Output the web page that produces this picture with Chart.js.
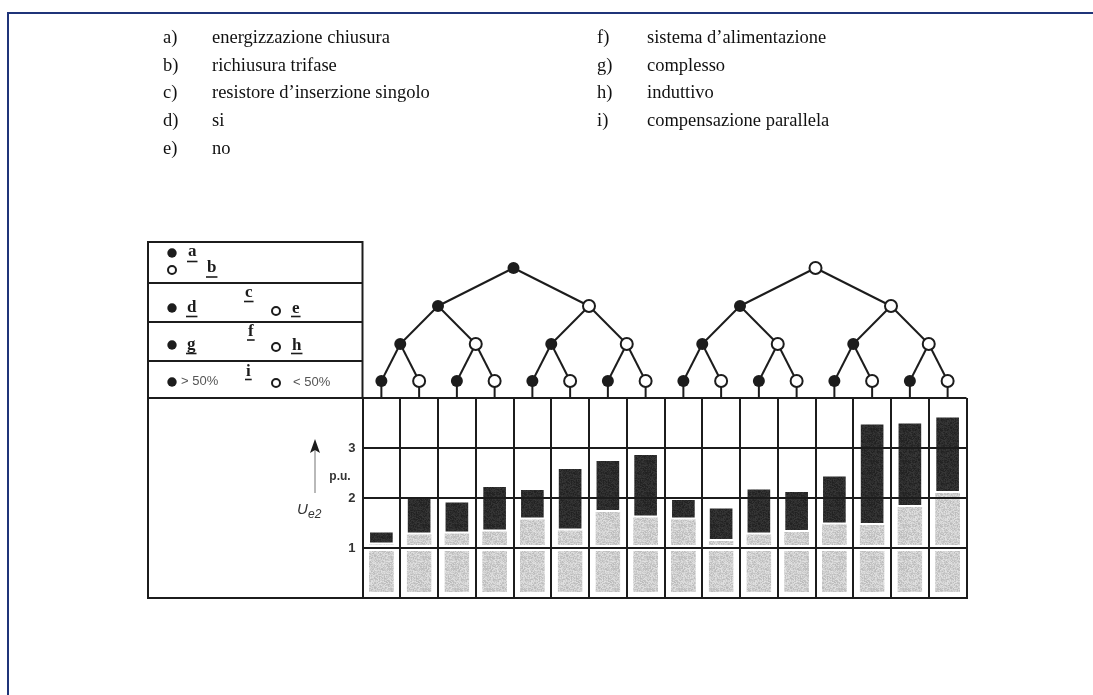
<!DOCTYPE html>
<html>
<head>
<meta charset="utf-8">
<script src="https://cdn.jsdelivr.net/npm/chart.js@4.4.1/dist/chart.umd.min.js"></script>
<style>
  html, body { margin: 0; padding: 0; background: #ffffff; }
  #wrap { position: relative; width: 1093px; height: 695px; }
  canvas { display: block; }
</style>
</head>
<body>
<div id="wrap"><canvas id="chart" width="1093" height="695"></canvas></div>
<script>
// Switching cases: 16 leaves of the decision tree
const cases = ['1','2','3','4','5','6','7','8','9','10','11','12','13','14','15','16'];
// Ue2 overvoltage band (p.u.): lower and upper limit of the dark bar
const surgeLow  = [1.11, 1.31, 1.33, 1.37, 1.61, 1.39, 1.76, 1.65, 1.61, 1.18, 1.31, 1.36, 1.51, 1.50, 1.86, 2.14];
const surgeHigh = [1.31, 2.01, 1.91, 2.22, 2.16, 2.58, 2.74, 2.86, 1.96, 1.79, 2.17, 2.12, 2.43, 3.47, 3.49, 3.61];
// Grey band starts from this level in every case
const baseLevel = [0.12, 0.12, 0.12, 0.12, 0.12, 0.12, 0.12, 0.12, 0.12, 0.12, 0.12, 0.12, 0.12, 0.12, 0.12, 0.12];
const yTickValues = [1, 2, 3];

// Tree node states, 1 = filled dot, 0 = open dot
const rootNodes  = [1, 0];
const levelOne   = [1, 0, 1, 0];
const levelTwo   = [1, 0, 1, 0, 1, 0, 1, 0];
const leafNodes  = [1, 0, 1, 0, 1, 0, 1, 0, 1, 0, 1, 0, 1, 0, 1, 0];

// Key list above the diagram
const keyLeft = [['a)', 'energizzazione chiusura'], ['b)', 'richiusura trifase'], ['c)', 'resistore d\u2019inserzione singolo'], ['d)', 'si'], ['e)', 'no']];
const keyRight = [['f)', 'sistema d\u2019alimentazione'], ['g)', 'complesso'], ['h)', 'induttivo'], ['i)', 'compensazione parallela']];

// Speckled fills for the bands
function speckle(base, spread) {
  const c = document.createElement('canvas');
  c.width = 32; c.height = 32;
  const g = c.getContext('2d');
  const img = g.createImageData(32, 32);
  for (let y = 0; y < 32; y++) {
    for (let x = 0; x < 32; x++) {
      const h = Math.sin(x * 12.9898 + y * 78.233) * 43758.5453;
      const f = h - Math.floor(h);
      const v = Math.round(base + (f - 0.5) * spread);
      const i = (y * 32 + x) * 4;
      img.data[i] = v; img.data[i + 1] = v; img.data[i + 2] = v; img.data[i + 3] = 255;
    }
  }
  g.putImageData(img, 0, 0);
  return g.createPattern(c, 'repeat');
}
const ctx0 = document.getElementById('chart').getContext('2d');
const greyFill = speckle(206, 40);
const darkFill = speckle(44, 24);

const INK = '#1c1c1c';

function dot(ctx, x, y, r, filled) {
  ctx.beginPath();
  ctx.arc(x, y, r, 0, Math.PI * 2);
  if (filled) {
    ctx.fillStyle = INK; ctx.fill();
  } else {
    ctx.fillStyle = '#ffffff'; ctx.fill();
    ctx.lineWidth = 2; ctx.strokeStyle = INK; ctx.stroke();
  }
}

function underlined(ctx, text, x, y, uy) {
  ctx.font = 'bold 17px "Liberation Serif", "DejaVu Serif", serif';
  ctx.fillStyle = INK;
  ctx.textAlign = 'left';
  ctx.textBaseline = 'alphabetic';
  ctx.fillText(text, x, y);
  const w = ctx.measureText(text).width;
  ctx.beginPath();
  ctx.moveTo(x - 1, uy); ctx.lineTo(x + w + 1, uy);
  ctx.lineWidth = 1.6; ctx.strokeStyle = INK; ctx.stroke();
}

const diagram = {
  id: 'diagram',
  beforeDraw(chart) {
    const ctx = chart.ctx;
    const xs = chart.scales.x;
    ctx.save();
    // page frame
    ctx.strokeStyle = '#1f3479';
    ctx.lineWidth = 2;
    ctx.beginPath();
    ctx.moveTo(1093, 13); ctx.lineTo(8, 13); ctx.lineTo(8, 695);
    ctx.stroke();

    // key list
    ctx.fillStyle = '#111111';
    ctx.font = '18.5px "Liberation Serif", "Times New Roman", serif';
    ctx.textBaseline = 'middle';
    ctx.textAlign = 'left';
    keyLeft.forEach((k, i) => {
      const y = 38 + i * 27.7;
      ctx.fillText(k[0], 163, y);
      ctx.fillText(k[1], 212, y);
    });
    keyRight.forEach((k, i) => {
      const y = 38 + i * 27.7;
      ctx.fillText(k[0], 597, y);
      ctx.fillText(k[1], 647, y);
    });

    // legend table
    ctx.strokeStyle = INK;
    ctx.lineWidth = 2;
    [242, 283, 322, 361].forEach(y => {
      ctx.beginPath(); ctx.moveTo(147, y); ctx.lineTo(363, y); ctx.stroke();
    });
    ctx.beginPath(); ctx.moveTo(148, 241); ctx.lineTo(148, 599); ctx.stroke();
    ctx.beginPath(); ctx.moveTo(362.5, 241); ctx.lineTo(362.5, 398); ctx.stroke();
    ctx.beginPath(); ctx.moveTo(147, 398); ctx.lineTo(363, 398); ctx.stroke();
    ctx.beginPath(); ctx.moveTo(147, 598); ctx.lineTo(363, 598); ctx.stroke();

    dot(ctx, 172, 253, 4.7, true);
    underlined(ctx, 'a', 188, 256, 261.5);
    dot(ctx, 172, 270, 4, false);
    underlined(ctx, 'b', 207, 272, 277);

    underlined(ctx, 'c', 245, 297, 301.5);
    dot(ctx, 172, 308, 4.7, true);
    underlined(ctx, 'd', 187, 312, 316.5);
    dot(ctx, 276, 311, 4, false);
    underlined(ctx, 'e', 292, 313, 316.5);

    underlined(ctx, 'f', 248, 336, 340);
    dot(ctx, 172, 345, 4.7, true);
    underlined(ctx, 'g', 187, 349, 353.5);
    dot(ctx, 276, 347, 4, false);
    underlined(ctx, 'h', 292, 350, 353.5);

    underlined(ctx, 'i', 246, 376, 379.5);
    dot(ctx, 172, 382, 4.7, true);
    dot(ctx, 276, 383, 4, false);
    ctx.font = '13px "Liberation Sans", Arial, sans-serif';
    ctx.fillStyle = '#555555';
    ctx.textBaseline = 'middle';
    ctx.fillText('> 50%', 181, 381);
    ctx.fillText('< 50%', 293, 382);

    // axis caption: arrow, unit and quantity
    ctx.strokeStyle = '#8a8a8a';
    ctx.lineWidth = 1.2;
    ctx.beginPath(); ctx.moveTo(315, 493); ctx.lineTo(315, 450); ctx.stroke();
    ctx.fillStyle = INK;
    ctx.beginPath();
    ctx.moveTo(315, 439); ctx.lineTo(320, 453); ctx.lineTo(315, 450); ctx.lineTo(310, 453); ctx.closePath();
    ctx.fill();
    ctx.font = 'bold 12px "Liberation Sans", Arial, sans-serif';
    ctx.fillStyle = '#333333';
    ctx.textAlign = 'center';
    ctx.fillText('p.u.', 340, 477);
    ctx.textAlign = 'left';
    ctx.font = 'italic 15px "Liberation Sans", Arial, sans-serif';
    ctx.fillText('U', 297, 510);
    ctx.font = 'italic 12px "Liberation Sans", Arial, sans-serif';
    ctx.fillText('e2', 308, 515);

    // decision tree above the columns
    const leafX = cases.map((_, i) => xs.getPixelForValue(i));
    const yLeaf = 381, yTwo = 344, yOne = 306, yRoot = 268;
    const twoX = levelTwo.map((_, i) => (leafX[2 * i] + leafX[2 * i + 1]) / 2);
    const oneX = levelOne.map((_, i) => (twoX[2 * i] + twoX[2 * i + 1]) / 2);
    const rootX = rootNodes.map((_, i) => (oneX[2 * i] + oneX[2 * i + 1]) / 2);
    ctx.strokeStyle = INK;
    ctx.lineWidth = 2;
    const edge = (x1, y1, x2, y2) => { ctx.beginPath(); ctx.moveTo(x1, y1); ctx.lineTo(x2, y2); ctx.stroke(); };
    leafX.forEach(x => edge(x, yLeaf, x, 398));
    leafX.forEach((x, i) => edge(twoX[Math.floor(i / 2)], yTwo, x, yLeaf));
    twoX.forEach((x, i) => edge(oneX[Math.floor(i / 2)], yOne, x, yTwo));
    oneX.forEach((x, i) => edge(rootX[Math.floor(i / 2)], yRoot, x, yOne));
    leafX.forEach((x, i) => dot(ctx, x, yLeaf, 6, leafNodes[i] === 1));
    twoX.forEach((x, i) => dot(ctx, x, yTwo, 6, levelTwo[i] === 1));
    oneX.forEach((x, i) => dot(ctx, x, yOne, 6, levelOne[i] === 1));
    rootX.forEach((x, i) => dot(ctx, x, yRoot, 6, rootNodes[i] === 1));
    ctx.restore();
  },
  afterDatasetsDraw(chart) {
    // white margin along the 1 p.u. line through the grey bands
    const ctx = chart.ctx;
    const y1 = chart.scales.y.getPixelForValue(1);
    const meta = chart.getDatasetMeta(0);
    ctx.save();
    ctx.fillStyle = '#ffffff';
    meta.data.forEach(bar => {
      const w = bar.width;
      ctx.fillRect(bar.x - w / 2 - 1, y1 - 3, w + 2, 6);
    });
    ctx.restore();
  }
};

new Chart(ctx0, {
  type: 'bar',
  data: {
    labels: cases,
    datasets: [
      {
        label: 'base',
        data: cases.map((_, i) => [baseLevel[i], surgeLow[i]]),
        backgroundColor: greyFill,
        borderColor: '#ffffff',
        borderWidth: { top: 2, bottom: 0, left: 0, right: 0 },
        borderSkipped: false,
        grouped: false,
        barPercentage: 0.66,
        categoryPercentage: 1.0,
        order: 2
      },
      {
        label: 'Ue2',
        data: cases.map((_, i) => [surgeLow[i], surgeHigh[i]]),
        backgroundColor: darkFill,
        borderWidth: 0,
        grouped: false,
        barPercentage: 0.6,
        categoryPercentage: 1.0,
        order: 1
      }
    ]
  },
  options: {
    responsive: false,
    animation: false,
    events: [],
    layout: { padding: { left: 332.5, top: 398, right: 126.5, bottom: 97 } },
    plugins: { legend: { display: false }, tooltip: { enabled: false }, title: { display: false } },
    scales: {
      x: {
        offset: true,
        grid: { display: true, offset: true, color: INK, lineWidth: 2, drawTicks: false, z: 1 },
        border: { display: true, color: INK, width: 2, z: 1 },
        ticks: { display: false },
        afterFit(scale) { scale.height = 0; }
      },
      y: {
        min: 0, max: 4,
        afterBuildTicks(scale) { scale.ticks = [0, ...yTickValues, 4].map(v => ({ value: v })); },
        grid: { display: true, color: INK, lineWidth: 2, drawTicks: false, z: 1 },
        border: { display: true, color: INK, width: 2, z: 1 },
        ticks: {
          padding: 7,
          color: '#333333',
          font: { family: '"Liberation Sans", Arial, sans-serif', size: 13, weight: 'bold' },
          callback: v => (yTickValues.includes(v) ? String(v) : '')
        },
        afterFit(scale) { scale.width = 30; }
      }
    }
  },
  plugins: [diagram]
});
</script>
</body>
</html>
